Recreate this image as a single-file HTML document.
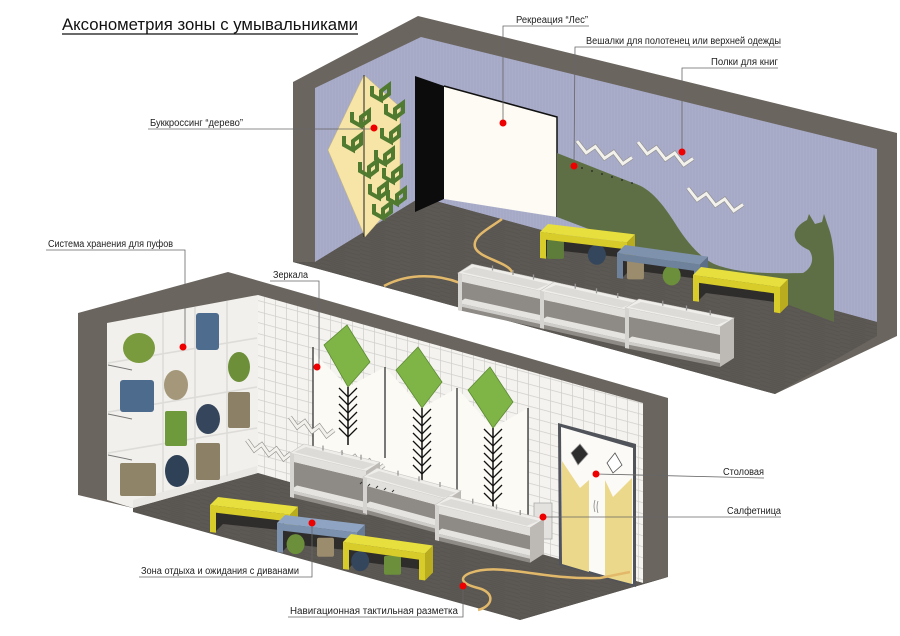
<!DOCTYPE html>
<html><head><meta charset="utf-8"><style>
html,body{margin:0;padding:0;background:#fff;}
svg{display:block;}
.lb{font-family:"Liberation Sans Narrow","Liberation Sans",sans-serif;font-size:10px;fill:#222;}
.ln{stroke:#666;stroke-width:0.8;fill:none;}
.dot{fill:#e00;}
</style></head><body>
<svg id="s" width="900" height="636" viewBox="0 0 900 636" xmlns="http://www.w3.org/2000/svg">
<defs>
<pattern id="tile" width="11" height="11" patternUnits="userSpaceOnUse" patternTransform="skewY(15)">
<rect width="11" height="11" fill="#f4f3ef"/><path d="M0 0.3H11M0.3 0V11" stroke="#cfcecb" stroke-width="0.8"/>
</pattern>
<pattern id="lav" width="3" height="10" patternUnits="userSpaceOnUse">
<rect width="3" height="10" fill="#a9adca"/><path d="M1 0V10" stroke="#a0a4c2" stroke-width="0.7"/>
</pattern>
<pattern id="wood" width="40" height="4" patternUnits="userSpaceOnUse" patternTransform="skewY(15)">
<rect width="40" height="4" fill="#5c5854"/><path d="M0 1H25M10 3H40" stroke="#534f4b" stroke-width="0.6"/>
</pattern>
</defs>

<text x="62" y="30" font-family="Liberation Sans Narrow, Liberation Sans, sans-serif" font-size="17" fill="#111" textLength="296" lengthAdjust="spacingAndGlyphs">Аксонометрия зоны с умывальниками</text>
<line x1="62" y1="34" x2="358" y2="34" stroke="#111" stroke-width="1.2"/>

<!-- TOP ROOM -->
<polygon points="293,82 418,16 897,133 897,336 775,394 293,262" fill="#6b655f"/>
<polygon points="315,88 421,37 421,197 315,262" fill="url(#lav)"/>
<polygon points="421,37 877,149 877,322 421,197" fill="url(#lav)"/>
<polygon points="315,262 421,197 877,322 877,336 775,394 293,262" fill="url(#wood)"/>
<polygon points="415,76 444,86 444,199 415,212" fill="#0c0c0c"/>
<polygon points="444,86 557,117 557,217 444,199" fill="#fdfbf3"/>
<polyline points="444,86 557,117 557,217" fill="none" stroke="#111" stroke-width="1.5"/>
<polygon points="364,75 400,107 400,197 365,237 328,150" fill="#f6e5a6" stroke="#c9b779" stroke-width="0.5"/>
<line x1="364" y1="75" x2="364" y2="237" stroke="#222" stroke-width="1"/>
<g id="bt"></g>
<path d="M557,153 L633,183 C648,187 660,200 673,220 C683,236 700,262 723,267 C740,272 760,274 803,273 C812,268 815,258 809,250 C800,246 793,240 795,232 C797,226 803,222 807,220 L809,214 L815,224 L822,222 L824,214 L828,226 C832,236 834,250 834,262 L834,322 L557,217 Z" fill="#5f6f45"/>
<g fill="#222"><circle cx="572" cy="165" r="0.9"/><circle cx="582" cy="168" r="0.9"/><circle cx="592" cy="171" r="0.9"/><circle cx="602" cy="174" r="0.9"/><circle cx="612" cy="177" r="0.9"/><circle cx="622" cy="180" r="0.9"/><circle cx="632" cy="183" r="0.9"/></g>
<path d="M502,219 C490,228 472,236 475,247 C478,258 508,262 512,272 C515,278 510,282 505,283" fill="none" stroke="#e2b96a" stroke-width="2.5"/>
<path d="M384,286 C410,272 440,275 460,283" fill="none" stroke="#e2b96a" stroke-width="2.5"/>
<g id="topobj"></g>

<!-- LOWER ROOM -->
<polygon points="78,313 228,272 668,398 668,577 520,620 133,508 78,495" fill="#6b655f"/>
<polygon points="258,295 643,403 643,583 258,478" fill="url(#tile)"/>
<polygon points="107,323 258,295 258,478 133,508 107,500" fill="#f1f0ec"/>
<polygon points="133,508 258,473 643,583 668,577 520,620 133,512" fill="url(#wood)"/>
<polygon points="133,500 257,466 257,473 133,508" fill="#e9e8e4"/>
<g stroke="#dddcd8" stroke-width="1.6" fill="none">
<line x1="108" y1="363" x2="257" y2="338"/>
<line x1="108" y1="412" x2="257" y2="387"/>
<line x1="108" y1="453" x2="257" y2="428"/>
<line x1="163" y1="313" x2="163" y2="492"/>
<line x1="195" y1="307" x2="195" y2="483"/>
<line x1="227" y1="301" x2="227" y2="476"/>
</g>
<g stroke="#777" stroke-width="1"><line x1="108" y1="365" x2="132" y2="370"/><line x1="108" y1="414" x2="132" y2="419"/><line x1="108" y1="455" x2="132" y2="460"/></g>
<ellipse cx="139" cy="348" rx="16" ry="15" fill="#7a9a3e"/>
<rect x="196" y="313" width="23" height="37" rx="3" fill="#4e6c8e"/>
<ellipse cx="239" cy="367" rx="11" ry="15" fill="#6d8f3a"/>
<rect x="120" y="380" width="34" height="32" rx="3" fill="#4d6b8d"/>
<ellipse cx="176" cy="385" rx="12" ry="15" fill="#a5987a"/>
<rect x="165" y="411" width="22" height="35" rx="2" fill="#6f9a3c"/>
<ellipse cx="208" cy="419" rx="12" ry="15" fill="#35465c"/>
<rect x="228" y="392" width="22" height="36" rx="2" fill="#8c8166"/>
<rect x="120" y="463" width="36" height="33" rx="2" fill="#8f8468"/>
<ellipse cx="177" cy="471" rx="12" ry="16" fill="#2f4157"/>
<rect x="196" y="443" width="24" height="37" rx="2" fill="#8c8166"/>
<polygon points="313,352 348,387 385,367 385,470 313,450" fill="#fbfaf5"/>
<polygon points="385,367 422,408 457,388 457,495 385,472" fill="#fbfaf5"/>
<polygon points="457,388 493,428 528,408 528,525 457,498" fill="#fbfaf5"/>
<g stroke="#222" stroke-width="1.2"><line x1="313" y1="347" x2="313" y2="451"/><line x1="385" y1="367" x2="385" y2="458"/><line x1="457" y1="388" x2="457" y2="490"/><line x1="528" y1="408" x2="528" y2="525"/></g>
<polygon points="347,325 370,362 348,387 324,345" fill="#7fb547" stroke="#5d8a32" stroke-width="0.8"/>
<polygon points="418,347 442,382 422,408 396,370" fill="#7fb547" stroke="#5d8a32" stroke-width="0.8"/>
<polygon points="490,367 513,402 493,428 468,390" fill="#7fb547" stroke="#5d8a32" stroke-width="0.8"/>
<g id="trees"></g>
<polygon points="558,423 636,444 636,587 559,565" fill="#50535a"/>
<polygon points="561,427 633,448 633,584 562,563" fill="#fbfaf6"/>
<polygon points="562,461 580,488 589,480 589,572 562,564" fill="#ecd88a"/>
<polygon points="605,480 613,497 632,478 632,584 605,577" fill="#ecd88a"/>
<polygon points="571,453 580,444 588,454 578,465" fill="#2d2d2d" stroke="#999" stroke-width="0.8"/>
<polygon points="607,463 615,453 622,465 613,473" fill="#fff" stroke="#555" stroke-width="0.8"/>
<g stroke="#888" stroke-width="0.8" fill="none"><path d="M595,500 q-2,6 0,12"/><path d="M598,501 q-2,6 0,12"/></g>
<rect x="534" y="503" width="18" height="36" fill="#e4e2de" stroke="#aaa" stroke-width="0.8"/>
<g id="lowz"></g>
<path d="M478,610 C494,606 495,592 478,588 C462,584 458,578 470,573 C500,562 540,580 600,578 L630,572" fill="none" stroke="#e2b96a" stroke-width="2.5"/>
<g id="lowobj"></g>

<!-- LABELS -->
<g>
<polyline class="ln" points="503,123 503,26 589,26"/>
<text class="lb" x="516" y="23" textLength="72" lengthAdjust="spacingAndGlyphs">Рекреация “Лес”</text>
<circle class="dot" cx="503" cy="123" r="3.5"/>
<polyline class="ln" points="574,166 575,47 781,47"/>
<text class="lb" x="586" y="44" textLength="195" lengthAdjust="spacingAndGlyphs">Вешалки для полотенец или верхней одежды</text>
<circle class="dot" cx="574" cy="166" r="3.5"/>
<polyline class="ln" points="682,155 682,68 778,68"/>
<text class="lb" x="711" y="65" textLength="67" lengthAdjust="spacingAndGlyphs">Полки для книг</text>
<circle class="dot" cx="682" cy="152" r="3.5"/>
<polyline class="ln" points="148,129 374,129"/>
<text class="lb" x="150" y="126" textLength="93" lengthAdjust="spacingAndGlyphs">Буккроссинг “дерево”</text>
<circle class="dot" cx="374" cy="128" r="3.5"/>
<polyline class="ln" points="46,250 185,250 185,347"/>
<text class="lb" x="48" y="247" textLength="125" lengthAdjust="spacingAndGlyphs">Система хранения для пуфов</text>
<circle class="dot" cx="183" cy="347" r="3.5"/>
<polyline class="ln" points="270,281 319,281 319,365"/>
<text class="lb" x="273" y="278" textLength="35" lengthAdjust="spacingAndGlyphs">Зеркала</text>
<circle class="dot" cx="317" cy="367" r="3.5"/>
<polyline class="ln" points="596,474 764,478"/>
<text class="lb" x="723" y="475" textLength="41" lengthAdjust="spacingAndGlyphs">Столовая</text>
<circle class="dot" cx="596" cy="474" r="3.5"/>
<polyline class="ln" points="543,517 781,517"/>
<text class="lb" x="727" y="514" textLength="54" lengthAdjust="spacingAndGlyphs">Салфетница</text>
<circle class="dot" cx="543" cy="517" r="3.5"/>
<polyline class="ln" points="139,577 312,577 312,523"/>
<text class="lb" x="141" y="574" textLength="158" lengthAdjust="spacingAndGlyphs">Зона отдыха и ожидания с диванами</text>
<circle class="dot" cx="312" cy="523" r="3.5"/>
<polyline class="ln" points="288,617 463,617 463,588"/>
<text class="lb" x="290" y="614" textLength="168" lengthAdjust="spacingAndGlyphs">Навигационная тактильная разметка</text>
<circle class="dot" cx="463" cy="586" r="3.5"/>
</g>
</svg>
<script>
(function(){
var NS='http://www.w3.org/2000/svg';
function el(g,tag,at){var e=document.createElementNS(NS,tag);for(var k in at)e.setAttribute(k,at[k]);g.appendChild(e);return e;}
function P(a){return a.map(function(p){return p[0].toFixed(1)+','+p[1].toFixed(1)}).join(' ');}
function poly(g,a,f,s){return el(g,'polygon',{points:P(a),fill:f,stroke:s||'none','stroke-width':0.6});}
function bench(g,E,L,s,H,c1,c2,c3,puffs){
  var b=[8,-8];
  var C=[E[0]+L,E[1]+L*s];
  var A=[E[0]+b[0],E[1]+b[1]],B=[C[0]+b[0],C[1]+b[1]];
  poly(g,[[E[0]+5,E[1]+6],[C[0]-3,C[1]+6],[B[0]-3,B[1]+H-2],[A[0]+5,A[1]+H],[E[0]+5,E[1]+H]],'#2f2d2b');
  (puffs||[]).forEach(function(p){
    var x=E[0]+L*p.t, y=E[1]+L*p.t*s+H;
    if(p.k=='c') el(g,'ellipse',{cx:x+9,cy:y-9,rx:9,ry:10,fill:p.c});
    else el(g,'rect',{x:x,y:y-19,width:17,height:19,rx:2,fill:p.c});
  });
  poly(g,[E,C,B,A],c1);
  poly(g,[E,C,[C[0],C[1]+7],[E[0],E[1]+7]],c2);
  poly(g,[E,[E[0]+6,E[1]+6*s],[E[0]+6,E[1]+H+6*s],[E[0],E[1]+H]],c2);
  poly(g,[[C[0]-6,C[1]-6*s],C,[C[0],C[1]+H],[C[0]-6,C[1]+H-6*s]],c2);
  poly(g,[C,B,[B[0],B[1]+H],[C[0],C[1]+H]],c3);
}
function sink(g,E,L,s,H){
  var b=[14,-9];
  var C=[E[0]+L,E[1]+L*s],A=[E[0]+b[0],E[1]+b[1]],B=[C[0]+b[0],C[1]+b[1]];
  poly(g,[[E[0],E[1]+8],[C[0],C[1]+8],[C[0],C[1]+H],[E[0],E[1]+H]],'#8e8a86');
  poly(g,[[E[0],E[1]+H-7],[C[0],C[1]+H-7],[C[0]+b[0]*0.5,C[1]+H-7+b[1]*0.5],[E[0]+b[0]*0.5,E[1]+H-7+b[1]*0.5]],'#e6e4e0');
  poly(g,[[E[0],E[1]+H-7],[C[0],C[1]+H-7],[C[0],C[1]+H-4],[E[0],E[1]+H-4]],'#cfcdc9');
  poly(g,[A,B,C,E],'#efeeeb','#c8c6c2');
  poly(g,[[E[0]+4,E[1]-1],[C[0]-3,C[1]-2],[B[0]-5,B[1]+2],[A[0]+2,A[1]+3]],'#dddbd7');
  poly(g,[E,C,[C[0],C[1]+8],[E[0],E[1]+8]],'#e2e0dc');
  poly(g,[E,[E[0]+4,E[1]+4*s],[E[0]+4,E[1]+H+4*s],[E[0],E[1]+H]],'#d6d4d0');
  poly(g,[C,B,[B[0],B[1]+H],[C[0],C[1]+H]],'#bdbab6');
  for(var i=1;i<4;i++){var x=A[0]+(L*i/4),y=A[1]+(L*i/4)*s;el(g,'line',{x1:x,y1:y-3,x2:x,y2:y+2,stroke:'#999','stroke-width':1.3});}
}
function zig(g,x,y,w,n,h){
  var pts=[];var step=w/(n*2);
  for(var i=0;i<=n*2;i++){pts.push([x+i*step,y+i*step*0.3+(i%2?h:0)]);}
  el(g,'polyline',{points:P(pts),fill:'none',stroke:'#8f8d8a','stroke-width':4.2,'stroke-linejoin':'miter'});
  el(g,'polyline',{points:P(pts),fill:'none',stroke:'#f3f1ec','stroke-width':3,'stroke-linejoin':'miter'});
}
var bt=document.getElementById('bt');
[[372,86],[386,104],[352,112],[382,128],[344,136],[376,150],[360,162],[384,168],[370,184],[388,190],[374,204]].forEach(function(p){
  el(bt,'path',{d:'M'+p[0]+','+p[1]+' l0,9 l9,5 l0,-9 l8,-6 l0,9 l-8,6',fill:'none',stroke:'#4f7a30','stroke-width':4});
});
var t=document.getElementById('topobj');
zig(t,577,141,55,3,9); zig(t,638,142,55,3,9); zig(t,688,188,55,3,9);
bench(t,[540,232],87,0.12,26,'#e7df3d','#d7cc29','#b9ad1f',[{t:0.08,k:'r',c:'#5f7d3a'},{t:0.55,k:'c',c:'#34465c'}]);
bench(t,[617,253],83,0.14,25,'#7f92ad','#6f829c','#5d6f86',[{t:0.12,k:'r',c:'#9a8c6c'},{t:0.55,k:'c',c:'#6b8f3a'}]);
bench(t,[693,275],87,0.14,26,'#e7df3d','#d7cc29','#b9ad1f',[]);
sink(t,[458,273],82,0.22,37); sink(t,[540,291],85,0.22,37); sink(t,[625,308],95,0.2,40);
var tr=document.getElementById('trees');
[[348,387,445],[422,408,484],[493,428,512]].forEach(function(q){
  el(tr,'line',{x1:q[0],y1:q[1],x2:q[0],y2:q[2],stroke:'#111','stroke-width':1.5});
  for(var y=q[1]+10;y<q[2]-3;y+=8){
    el(tr,'polyline',{points:(q[0]-9)+','+(y-9)+' '+q[0]+','+y+' '+(q[0]+9)+','+(y-9),fill:'none',stroke:'#111','stroke-width':1.3});
  }
});
var lz=document.getElementById('lowz');
zig(lz,290,417,44,3,8); zig(lz,247,440,44,3,8); zig(lz,340,452,44,3,8);
var l=document.getElementById('lowobj');
sink(l,[290,453],76,0.24,44); sink(l,[363,477],84,0.27,36); sink(l,[435,505],95,0.24,35);
[[340,484],[348,486],[356,488],[364,490],[372,492]].forEach(function(p){el(l,'line',{x1:p[0]+20,y1:p[1],x2:p[0]+22,y2:p[1]-2,stroke:'#333','stroke-width':1});});
bench(l,[210,505],80,0.12,27,'#e7df3d','#d7cc29','#b9ad1f',[]);
bench(l,[277,523],80,0.12,29,'#8ea4c2','#7c91ae','#687b95',[{t:0.12,k:'c',c:'#6b8f3a'},{t:0.5,k:'r',c:'#9a8c6c'}]);
bench(l,[343,542],82,0.14,27,'#e7df3d','#d7cc29','#b9ad1f',[{t:0.1,k:'c',c:'#34465c'},{t:0.5,k:'r',c:'#6b8f3a'}]);
})();
</script>
</body></html>
